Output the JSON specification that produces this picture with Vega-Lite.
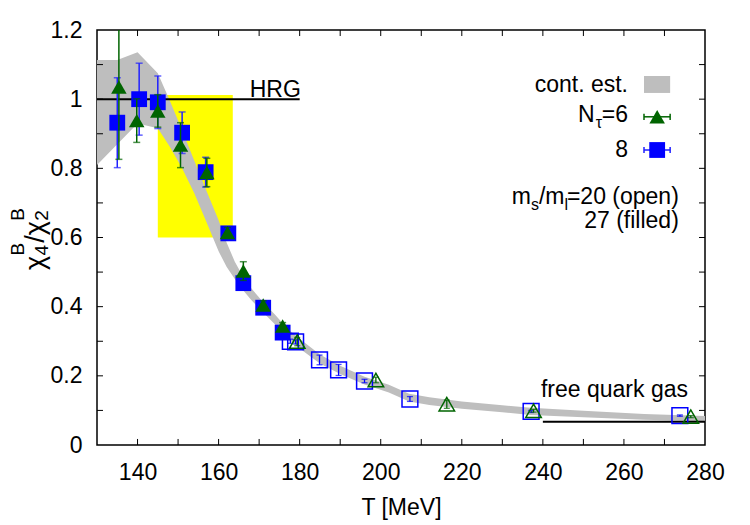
{
  "$schema": "https://vega.github.io/schema/vega-lite/v6.json",
  "width": 608,
  "height": 415,
  "autosize": {"type": "none"},
  "padding": {"left": 97, "top": 30, "right": 45, "bottom": 80},
  "background": "white",
  "config": {
    "font": "Liberation Sans",
    "view": {"stroke": "black", "strokeWidth": 1.5}
  },
  "datasets": {
    "box": [{"T1": 145, "T2": 163.5, "lo": 0.6, "hi": 1.012}],
    "band": [
      {"T": 130, "lo": 0.81, "hi": 1.113},
      {"T": 135, "lo": 0.87, "hi": 1.113},
      {"T": 140, "lo": 0.93, "hi": 1.136},
      {"T": 145, "lo": 0.916, "hi": 1.075},
      {"T": 148, "lo": 0.862, "hi": 0.995},
      {"T": 151, "lo": 0.8, "hi": 0.91},
      {"T": 154, "lo": 0.728, "hi": 0.822},
      {"T": 157, "lo": 0.645, "hi": 0.735},
      {"T": 160, "lo": 0.56, "hi": 0.65},
      {"T": 162, "lo": 0.515, "hi": 0.585},
      {"T": 164, "lo": 0.48, "hi": 0.53},
      {"T": 166, "lo": 0.448, "hi": 0.488},
      {"T": 168, "lo": 0.42, "hi": 0.454},
      {"T": 171, "lo": 0.383, "hi": 0.413},
      {"T": 174, "lo": 0.348, "hi": 0.376},
      {"T": 177, "lo": 0.308, "hi": 0.336},
      {"T": 180, "lo": 0.279, "hi": 0.307},
      {"T": 185, "lo": 0.236, "hi": 0.262},
      {"T": 190, "lo": 0.205, "hi": 0.229},
      {"T": 196, "lo": 0.175, "hi": 0.197},
      {"T": 202, "lo": 0.152, "hi": 0.174},
      {"T": 207, "lo": 0.126, "hi": 0.148},
      {"T": 212, "lo": 0.116, "hi": 0.138},
      {"T": 220, "lo": 0.105, "hi": 0.126},
      {"T": 230, "lo": 0.095, "hi": 0.115},
      {"T": 237, "lo": 0.087, "hi": 0.108},
      {"T": 250, "lo": 0.08, "hi": 0.099},
      {"T": 265, "lo": 0.073, "hi": 0.09},
      {"T": 280, "lo": 0.069, "hi": 0.084}
    ],
    "hrg": [{"T1": 130, "T2": 180, "v": 1}],
    "sb": [{"T1": 240, "T2": 280, "v": 0.0675}],
    "n8_open": [
      {"T": 177.7, "v": 0.3, "e": 0.006},
      {"T": 179.0, "v": 0.298, "e": 0.006},
      {"T": 184.9, "v": 0.246, "e": 0.014},
      {"T": 189.6, "v": 0.217, "e": 0.016},
      {"T": 196.0, "v": 0.185, "e": 0.005},
      {"T": 207.2, "v": 0.133, "e": 0.007},
      {"T": 237.1, "v": 0.097, "e": 0.003},
      {"T": 273.8, "v": 0.085, "e": 0.002}
    ],
    "n6_open": [
      {"T": 179.4, "v": 0.299, "e": 0.012},
      {"T": 198.8, "v": 0.188, "e": 0.008},
      {"T": 216.3, "v": 0.118, "e": 0.012},
      {"T": 237.7, "v": 0.099, "e": 0.004},
      {"T": 276.5, "v": 0.082, "e": 0.003}
    ],
    "n8_filled": [
      {"T": 135.0, "v": 0.932, "e": 0.13},
      {"T": 140.4, "v": 1.0, "e": 0.104},
      {"T": 145.0, "v": 0.991, "e": 0.076},
      {"T": 151.0, "v": 0.903, "e": 0.06},
      {"T": 156.8, "v": 0.789, "e": 0.043},
      {"T": 162.4, "v": 0.612, "e": 0.015},
      {"T": 166.1, "v": 0.468, "e": 0.01},
      {"T": 171.0, "v": 0.397, "e": 0.01},
      {"T": 175.8, "v": 0.325, "e": 0.008}
    ],
    "n6_filled": [
      {"T": 135.4, "v": 1.035, "e": 0.209},
      {"T": 139.8, "v": 0.938, "e": 0.063},
      {"T": 145.0, "v": 0.966, "e": 0.047},
      {"T": 150.6, "v": 0.867, "e": 0.065},
      {"T": 157.1, "v": 0.788, "e": 0.041},
      {"T": 162.2, "v": 0.614, "e": 0.015},
      {"T": 166.1, "v": 0.503, "e": 0.027},
      {"T": 171.0, "v": 0.405, "e": 0.012},
      {"T": 175.8, "v": 0.344, "e": 0.01}
    ],
    "xt": [{"T": 140}, {"T": 150}, {"T": 160}, {"T": 170}, {"T": 180}, {"T": 190}, {"T": 200}, {"T": 210}, {"T": 220}, {"T": 230}, {"T": 240}, {"T": 250}, {"T": 260}, {"T": 270}],
    "yt": [{"v": 0.1}, {"v": 0.2}, {"v": 0.3}, {"v": 0.4}, {"v": 0.5}, {"v": 0.6}, {"v": 0.7}, {"v": 0.8}, {"v": 0.9}, {"v": 1.0}, {"v": 1.1}],
    "one": [{}]
  },
  "layer": [
    {
      "data": {"name": "box"},
      "mark": {"type": "rect", "color": "#ffff00"},
      "encoding": {
        "x": {
          "field": "T1", "type": "quantitative",
          "scale": {"domain": [130, 280], "nice": false, "zero": false},
          "axis": {
            "values": [140, 160, 180, 200, 220, 240, 260, 280],
            "format": "d", "ticks": false, "domain": false, "grid": false,
            "labelFontSize": 23, "labelColor": "black", "labelPadding": 16,
            "labelFlush": false, "labelOverlap": false,
            "title": "T [MeV]", "titleFontSize": 23, "titleFontWeight": "normal",
            "titleColor": "black", "titlePadding": 12
          }
        },
        "x2": {"field": "T2"},
        "y": {
          "field": "lo", "type": "quantitative",
          "scale": {"domain": [0, 1.2], "nice": false, "zero": false},
          "axis": {
            "values": [0, 0.2, 0.4, 0.6, 0.8, 1, 1.2],
            "format": "~g", "ticks": false, "domain": false, "grid": false,
            "labelFontSize": 23, "labelColor": "black", "labelPadding": 15,
            "labelFlush": false, "labelOverlap": false, "title": null
          }
        },
        "y2": {"field": "hi"}
      }
    },
    {
      "data": {"name": "band"},
      "mark": {"type": "area", "color": "#bebebe", "opacity": 1},
      "encoding": {
        "x": {"field": "T", "type": "quantitative"},
        "y": {"field": "lo", "type": "quantitative"},
        "y2": {"field": "hi"}
      }
    },
    {
      "data": {"name": "hrg"},
      "mark": {"type": "rule", "color": "black", "strokeWidth": 2},
      "encoding": {
        "x": {"field": "T1", "type": "quantitative"},
        "x2": {"field": "T2"},
        "y": {"field": "v", "type": "quantitative"}
      }
    },
    {
      "data": {"name": "sb"},
      "mark": {"type": "rule", "color": "black", "strokeWidth": 2},
      "encoding": {
        "x": {"field": "T1", "type": "quantitative"},
        "x2": {"field": "T2"},
        "y": {"field": "v", "type": "quantitative"}
      }
    },
    {
      "data": {"name": "n8_open"},
      "mark": {"type": "errorbar", "color": "#0000ff", "ticks": true, "size": 6, "thickness": 1.3},
      "encoding": {
        "x": {"field": "T", "type": "quantitative"},
        "y": {"field": "v", "type": "quantitative"},
        "yError": {"field": "e"}
      }
    },
    {
      "data": {"name": "n8_open"},
      "mark": {"type": "point", "shape": "square", "filled": false, "stroke": "#0000ff", "strokeWidth": 1.5, "size": 250, "opacity": 1},
      "encoding": {
        "x": {"field": "T", "type": "quantitative"},
        "y": {"field": "v", "type": "quantitative"}
      }
    },
    {
      "data": {"name": "n6_open"},
      "mark": {"type": "errorbar", "color": "#006400", "ticks": true, "size": 6, "thickness": 1.3},
      "encoding": {
        "x": {"field": "T", "type": "quantitative"},
        "y": {"field": "v", "type": "quantitative"},
        "yError": {"field": "e"}
      }
    },
    {
      "data": {"name": "n6_open"},
      "mark": {"type": "point", "shape": "triangle-up", "filled": false, "stroke": "#006400", "strokeWidth": 1.5, "size": 240, "opacity": 1},
      "encoding": {
        "x": {"field": "T", "type": "quantitative"},
        "y": {"field": "v", "type": "quantitative"}
      }
    },
    {
      "data": {"name": "n8_filled"},
      "mark": {"type": "errorbar", "color": "#2020ff", "ticks": true, "size": 7, "thickness": 1.5, "clip": true},
      "encoding": {
        "x": {"field": "T", "type": "quantitative"},
        "y": {"field": "v", "type": "quantitative"},
        "yError": {"field": "e"}
      }
    },
    {
      "data": {"name": "n8_filled"},
      "mark": {"type": "point", "shape": "square", "filled": true, "color": "#0000ff", "size": 250, "opacity": 1},
      "encoding": {
        "x": {"field": "T", "type": "quantitative"},
        "y": {"field": "v", "type": "quantitative"}
      }
    },
    {
      "data": {"name": "n6_filled"},
      "mark": {"type": "errorbar", "color": "#006400", "ticks": true, "size": 7, "thickness": 1.5, "clip": true},
      "encoding": {
        "x": {"field": "T", "type": "quantitative"},
        "y": {"field": "v", "type": "quantitative"},
        "yError": {"field": "e"}
      }
    },
    {
      "data": {"name": "n6_filled"},
      "mark": {"type": "point", "shape": "triangle-up", "filled": true, "color": "#006400", "size": 240, "opacity": 1},
      "encoding": {
        "x": {"field": "T", "type": "quantitative"},
        "y": {"field": "v", "type": "quantitative"}
      }
    },
    {
      "data": {"name": "xt"},
      "mark": {"type": "rule", "color": "black", "strokeWidth": 1},
      "encoding": {
        "x": {"field": "T", "type": "quantitative"},
        "y": {"datum": 0},
        "y2": {"datum": 0.0174}
      }
    },
    {
      "data": {"name": "xt"},
      "mark": {"type": "rule", "color": "black", "strokeWidth": 1},
      "encoding": {
        "x": {"field": "T", "type": "quantitative"},
        "y": {"datum": 1.2},
        "y2": {"datum": 1.1826}
      }
    },
    {
      "data": {"name": "yt"},
      "mark": {"type": "rule", "color": "black", "strokeWidth": 1},
      "encoding": {
        "y": {"field": "v", "type": "quantitative"},
        "x": {"datum": 130},
        "x2": {"datum": 131.48}
      }
    },
    {
      "data": {"name": "yt"},
      "mark": {"type": "rule", "color": "black", "strokeWidth": 1},
      "encoding": {
        "y": {"field": "v", "type": "quantitative"},
        "x": {"datum": 280},
        "x2": {"datum": 278.52}
      }
    },
    {
      "data": {"name": "one"},
      "mark": {"type": "rect", "color": "#bebebe"},
      "encoding": {
        "x": {"datum": 264.95}, "x2": {"datum": 271.4},
        "y": {"datum": 1.018}, "y2": {"datum": 1.067}
      }
    },
    {
      "data": {"name": "one"},
      "mark": {"type": "rule", "color": "#006400", "strokeWidth": 1.5},
      "encoding": {"x": {"datum": 264.95}, "x2": {"datum": 271.4}, "y": {"datum": 0.949}}
    },
    {
      "data": {"name": "one"},
      "mark": {"type": "rule", "color": "#006400", "strokeWidth": 1.5},
      "encoding": {"x": {"datum": 264.95}, "y": {"datum": 0.94}, "y2": {"datum": 0.958}}
    },
    {
      "data": {"name": "one"},
      "mark": {"type": "rule", "color": "#006400", "strokeWidth": 1.5},
      "encoding": {"x": {"datum": 271.4}, "y": {"datum": 0.94}, "y2": {"datum": 0.958}}
    },
    {
      "data": {"name": "one"},
      "mark": {"type": "point", "shape": "triangle-up", "filled": true, "color": "#006400", "size": 240, "opacity": 1},
      "encoding": {"x": {"datum": 268.2}, "y": {"datum": 0.949}}
    },
    {
      "data": {"name": "one"},
      "mark": {"type": "rule", "color": "#2020ff", "strokeWidth": 1.5},
      "encoding": {"x": {"datum": 264.95}, "x2": {"datum": 271.4}, "y": {"datum": 0.853}}
    },
    {
      "data": {"name": "one"},
      "mark": {"type": "rule", "color": "#2020ff", "strokeWidth": 1.5},
      "encoding": {"x": {"datum": 264.95}, "y": {"datum": 0.844}, "y2": {"datum": 0.862}}
    },
    {
      "data": {"name": "one"},
      "mark": {"type": "rule", "color": "#2020ff", "strokeWidth": 1.5},
      "encoding": {"x": {"datum": 271.4}, "y": {"datum": 0.844}, "y2": {"datum": 0.862}}
    },
    {
      "data": {"name": "one"},
      "mark": {"type": "point", "shape": "square", "filled": true, "color": "#0000ff", "size": 250, "opacity": 1},
      "encoding": {"x": {"datum": 268.2}, "y": {"datum": 0.853}}
    },
    {
      "data": {"name": "one"},
      "mark": {"type": "text", "text": "cont. est.", "fontSize": 23, "align": "right", "baseline": "alphabetic", "color": "black"},
      "encoding": {"x": {"datum": 261.0}, "y": {"datum": 1.022}}
    },
    {
      "data": {"name": "one"},
      "mark": {"type": "text", "text": "=6", "fontSize": 23, "align": "right", "baseline": "alphabetic", "color": "black"},
      "encoding": {"x": {"datum": 261.0}, "y": {"datum": 0.934}}
    },
    {
      "data": {"name": "one"},
      "mark": {"type": "text", "text": "τ", "fontSize": 16, "align": "right", "baseline": "alphabetic", "color": "black"},
      "encoding": {"x": {"datum": 254.6}, "y": {"datum": 0.917}}
    },
    {
      "data": {"name": "one"},
      "mark": {"type": "text", "text": "N", "fontSize": 23, "align": "right", "baseline": "alphabetic", "color": "black"},
      "encoding": {"x": {"datum": 252.75}, "y": {"datum": 0.934}}
    },
    {
      "data": {"name": "one"},
      "mark": {"type": "text", "text": "8", "fontSize": 23, "align": "right", "baseline": "alphabetic", "color": "black"},
      "encoding": {"x": {"datum": 261.0}, "y": {"datum": 0.834}}
    },
    {
      "data": {"name": "one"},
      "mark": {"type": "text", "text": "=20 (open)", "fontSize": 23, "align": "right", "baseline": "alphabetic", "color": "black"},
      "encoding": {"x": {"datum": 273.54}, "y": {"datum": 0.697}}
    },
    {
      "data": {"name": "one"},
      "mark": {"type": "text", "text": "l", "fontSize": 16, "align": "right", "baseline": "alphabetic", "color": "black"},
      "encoding": {"x": {"datum": 246.23}, "y": {"datum": 0.68}}
    },
    {
      "data": {"name": "one"},
      "mark": {"type": "text", "text": "/m", "fontSize": 23, "align": "right", "baseline": "alphabetic", "color": "black"},
      "encoding": {"x": {"datum": 245.34}, "y": {"datum": 0.697}}
    },
    {
      "data": {"name": "one"},
      "mark": {"type": "text", "text": "s", "fontSize": 16, "align": "right", "baseline": "alphabetic", "color": "black"},
      "encoding": {"x": {"datum": 239.02}, "y": {"datum": 0.68}}
    },
    {
      "data": {"name": "one"},
      "mark": {"type": "text", "text": "m", "fontSize": 23, "align": "right", "baseline": "alphabetic", "color": "black"},
      "encoding": {"x": {"datum": 237.05}, "y": {"datum": 0.697}}
    },
    {
      "data": {"name": "one"},
      "mark": {"type": "text", "text": "27 (filled)", "fontSize": 23, "align": "right", "baseline": "alphabetic", "color": "black"},
      "encoding": {"x": {"datum": 273.54}, "y": {"datum": 0.6275}}
    },
    {
      "data": {"name": "one"},
      "mark": {"type": "text", "text": "HRG", "fontSize": 23, "align": "right", "baseline": "alphabetic", "color": "black"},
      "encoding": {"x": {"datum": 180.3}, "y": {"datum": 1.007}}
    },
    {
      "data": {"name": "one"},
      "mark": {"type": "text", "text": "free quark gas", "fontSize": 23, "align": "right", "baseline": "alphabetic", "color": "black"},
      "encoding": {"x": {"datum": 275.8}, "y": {"datum": 0.138}}
    },
    {
      "data": {"name": "one"},
      "mark": {"type": "text", "text": "χ", "fontSize": 27, "angle": 270, "align": "left", "baseline": "alphabetic", "color": "black"},
      "encoding": {"x": {"datum": 116.92}, "y": {"datum": 0.506}}
    },
    {
      "data": {"name": "one"},
      "mark": {"type": "text", "text": "4", "fontSize": 19, "angle": 270, "align": "left", "baseline": "alphabetic", "color": "black"},
      "encoding": {"x": {"datum": 117.91}, "y": {"datum": 0.548}}
    },
    {
      "data": {"name": "one"},
      "mark": {"type": "text", "text": "B", "fontSize": 19, "angle": 270, "align": "left", "baseline": "alphabetic", "color": "black"},
      "encoding": {"x": {"datum": 111.99}, "y": {"datum": 0.548}}
    },
    {
      "data": {"name": "one"},
      "mark": {"type": "text", "text": "/", "fontSize": 27, "angle": 270, "align": "left", "baseline": "alphabetic", "color": "black"},
      "encoding": {"x": {"datum": 116.92}, "y": {"datum": 0.5846}}
    },
    {
      "data": {"name": "one"},
      "mark": {"type": "text", "text": "χ", "fontSize": 27, "angle": 270, "align": "left", "baseline": "alphabetic", "color": "black"},
      "encoding": {"x": {"datum": 116.92}, "y": {"datum": 0.6064}}
    },
    {
      "data": {"name": "one"},
      "mark": {"type": "text", "text": "2", "fontSize": 19, "angle": 270, "align": "left", "baseline": "alphabetic", "color": "black"},
      "encoding": {"x": {"datum": 117.91}, "y": {"datum": 0.6483}}
    },
    {
      "data": {"name": "one"},
      "mark": {"type": "text", "text": "B", "fontSize": 19, "angle": 270, "align": "left", "baseline": "alphabetic", "color": "black"},
      "encoding": {"x": {"datum": 111.99}, "y": {"datum": 0.6483}}
    }
  ]
}
